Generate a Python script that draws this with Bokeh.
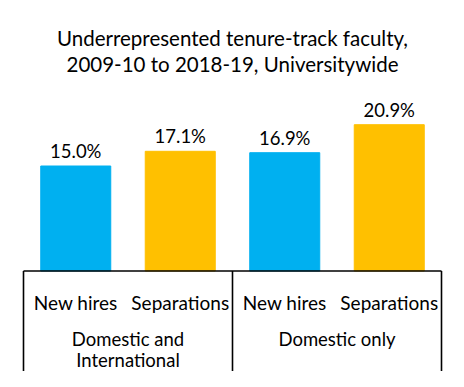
from bokeh.plotting import figure
from bokeh.models import Range1d, ColumnDataSource
from bokeh.core.properties import value
from bokeh.embed import file_html
from bokeh.resources import INLINE

title_lines = ["Underrepresented tenure-track faculty,", "2009-10 to 2018-19, Universitywide"]
categories = ["New hires", "Separations", "New hires", "Separations"]
groups = [["Domestic and", "International"], ["Domestic only"]]
values = [15.0, 17.1, 16.9, 20.9]
colors = ["#00B0F0", "#FFC000", "#00B0F0", "#FFC000"]
labels = ["15.0%", "17.1%", "16.9%", "20.9%"]

FONT = "Lato"
W, H = 448, 371
left_px = 23.0
slot_px = 104.5
base_px = 270.5
unit_px = 7.0

n = len(categories)
p = figure(width=W, height=H, output_backend="svg", toolbar_location=None,
           x_range=Range1d(-left_px / slot_px, (W - left_px) / slot_px),
           y_range=Range1d(-(H - base_px) / unit_px, base_px / unit_px),
           min_border=0)
p.axis.visible = False
p.grid.visible = False
p.outline_line_color = None
p.background_fill_color = "white"
p.border_fill_color = "white"

gap = 15.0 / unit_px
xs = [i + 0.5 for i in range(n)]
src = ColumnDataSource(dict(x=xs, top=values, color=colors, label=labels, cat=categories,
                            ly=[v + gap for v in values],
                            cy=[-(302 - base_px) / unit_px] * n))
p.vbar(x="x", top="top", bottom=0, width=0.67, color="color", source=src)

# value labels
p.text(x="x", y="ly", text="label", source=src,
       text_align="center", text_baseline="alphabetic",
       text_font=value(FONT), text_font_size="18.5px", text_color="black")

# title
p.text(x=[n / 2, n / 2], y=[(base_px - 37.7) / unit_px, (base_px - 63.3) / unit_px],
       text=title_lines, text_align="center", text_baseline="alphabetic",
       text_font=value(FONT), text_font_size="20.5px", text_color="black")

# axis line and separators
ybot = p.y_range.start
p.segment(x0=[0], y0=[0], x1=[n], y1=[0], line_color="black", line_width=1.6)
p.segment(x0=[0, 2, 4], y0=[0, 0, 0], x1=[0, 2, 4], y1=[ybot, ybot, ybot],
          line_color="black", line_width=1.6)

# category labels
p.text(x="x", y="cy", text="cat", source=src,
       text_align="center", text_baseline="alphabetic",
       text_font=value(FONT), text_font_size="19px", text_color="black")

# group labels
gx, gy, gt = [], [], []
for gi, lines in enumerate(groups):
    for li, t in enumerate(lines):
        gx.append(gi * 2 + 1)
        gy.append(-(338 - base_px + li * 21) / unit_px)
        gt.append(t)
p.text(x=gx, y=gy, text=gt, text_align="center", text_baseline="alphabetic",
       text_font=value(FONT), text_font_size="18.5px", text_color="black")

open("out.html", "w").write(file_html(p, INLINE))
